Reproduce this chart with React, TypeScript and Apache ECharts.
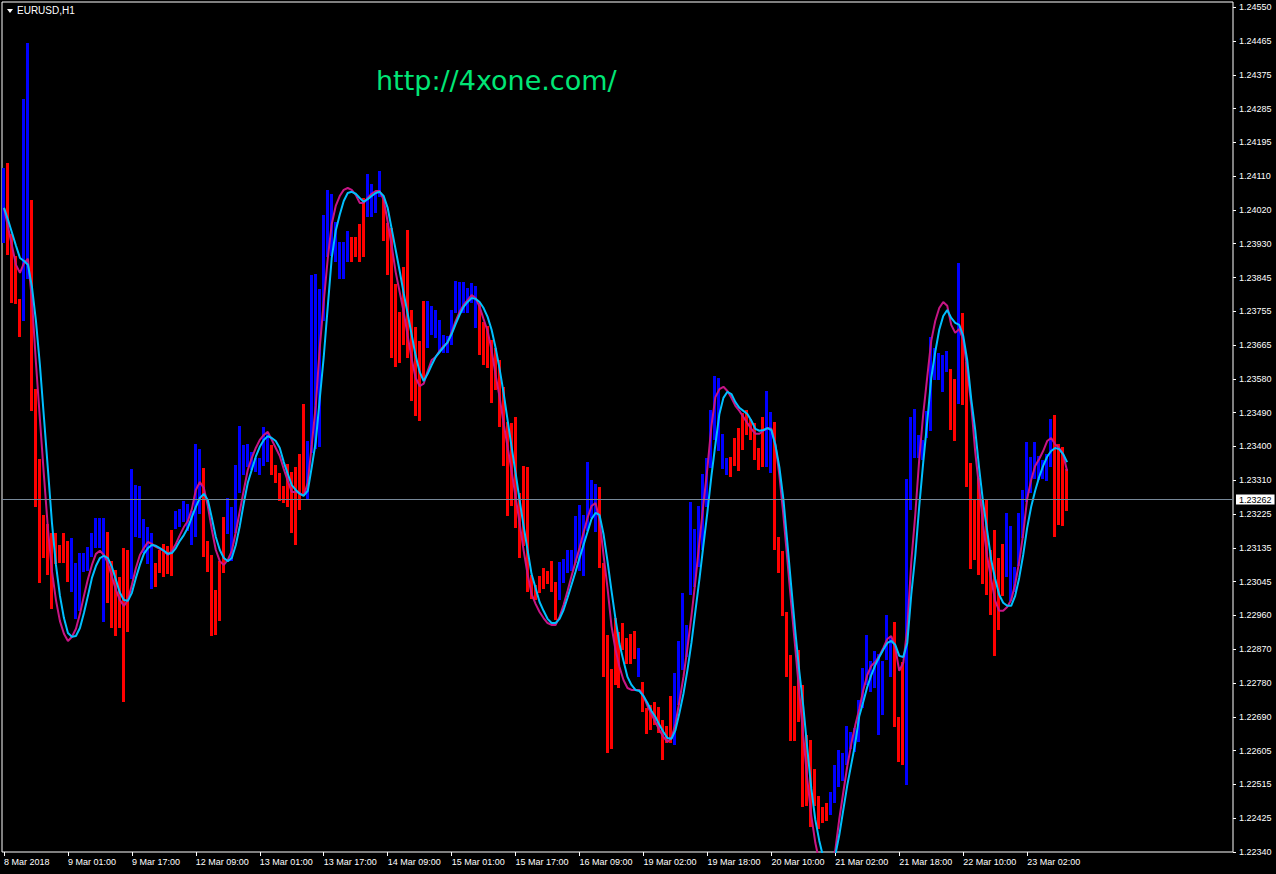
import React, { useEffect, useRef } from 'react';
import * as echarts from 'echarts';

// ---- texts ----
const symbolTitle = 'EURUSD,H1';
const watermark = 'http://4xone.com/';
const currentPrice = 1.23262;
const currentPriceLabel = '1.23262';

// ---- x axis (H1 bars, one label every 16 bars) ----
const xTickLabels = [
  '8 Mar 2018', '9 Mar 01:00', '9 Mar 17:00', '12 Mar 09:00', '13 Mar 01:00', '13 Mar 17:00',
  '14 Mar 09:00', '15 Mar 01:00', '15 Mar 17:00', '16 Mar 09:00', '19 Mar 02:00', '19 Mar 18:00',
  '20 Mar 10:00', '21 Mar 02:00', '21 Mar 18:00', '22 Mar 10:00', '23 Mar 02:00',
];
const xTickStep = 16;
const totalSlots = 308; // visible bar slots across the chart window

// ---- y axis ----
const yTickLabels = [
  '1.22340', '1.22425', '1.22515', '1.22605', '1.22690', '1.22780', '1.22870', '1.22960', '1.23045',
  '1.23135', '1.23225', '1.23310', '1.23400', '1.23490', '1.23580', '1.23665', '1.23755', '1.23845',
  '1.23930', '1.24020', '1.24110', '1.24195', '1.24285', '1.24375', '1.24465', '1.24550',
];
const yMin = 1.2234;
const yTopTick = 1.2455;
const yMax = 1.245636;

// ---- bars (prices in points, 1e-5) ----
const barColorCodes = (
  'B' + 'RRRR' + 'BB' + 'RRRRRRRRRR' + 'BBBBBBBBB' + 'RRRRRR' + 'BBBBBB' + 'RRRRR' + 'BBBBBBB' +
  'RRRRRR' + 'BBBBBBBBBBB' + 'RRRRRRRRR' + 'BBBBBBBBBBB' + 'RRRR' + 'BBBB' + 'RRRRRRRRRRR' +
  'BBBBBBBBBBBBB' + 'RRRRRRRRRRRRRRRRRRRR' + 'BBBBBBBBBB' + 'RRRRRRRRRR' + 'B' + 'RRRRRRRR' +
  'BBBBBBBBBBBBBB' + 'RRRRRRRRR' + 'BB' + 'RRRRRRRRRRRRRR' + 'BBBBBBBBBBBBBBBB' + 'RRR' +
  'BBBBBBBBBBB' + 'RR' + 'B' + 'RRRRRRRRRRR' + 'BBBBBBBBBBBB' + 'RRRR'
).split('');

const barHighPts = [
  124130, 124143, 123957, 123899, 123787, 124310, 124457, 124046, 123551, 123368,
  123222, 123198, 123175, 123175, 123143, 123175, 123154, 123162, 123096, 123122,
  123122, 123138, 123175, 123214, 123214, 123214, 123177, 123101, 123078, 123060,
  123135, 123130, 123342, 123300, 123298, 123211, 123190, 123175, 123096, 123130,
  123146, 123141, 123183, 123232, 123237, 123258, 123250, 123232, 123407, 123394,
  123345, 123154, 123117, 123026, 123101, 123216, 123266, 123243, 123353, 123455,
  123405, 123407, 123387, 123371, 123371, 123452, 123439, 123405, 123353, 123332,
  123298, 123355, 123334, 123347, 123381, 123512, 123415, 123850, 123852, 123813,
  124007, 124072, 124062, 123988, 123936, 123936, 123965, 123949, 123949, 123983,
  124051, 124114, 124088, 124064, 124122, 124054, 123986, 123973, 123826, 123753,
  123871, 123967, 123758, 123714, 123677, 123782, 123782, 123769, 123758, 123732,
  123693, 123690, 123758, 123834, 123831, 123831, 123816, 123829, 123821, 123776,
  123727, 123716, 123680, 123659, 123627, 123557, 123465, 123462, 123478, 123279,
  123350, 123347, 123065, 123039, 123062, 123083, 123075, 123101, 123047, 123099,
  123107, 123130, 123130, 123219, 123248, 123222, 123360, 123313, 123303, 123295,
  123096, 122908, 122819, 122952, 122916, 122939, 122900, 122911, 122918, 122874,
  122785, 122717, 122725, 122733, 122720, 122686, 122670, 122748, 122808, 122892,
  123018, 122934, 123256, 123185, 123245, 123329, 123371, 123496, 123585, 123580,
  123434, 123371, 123374, 123423, 123449, 123489, 123496, 123473, 123462, 123397,
  123478, 123546, 123491, 123465, 123164, 123128, 122968, 122856, 122774, 122869,
  122777, 122646, 122633, 122557, 122487, 122458, 122468, 122497, 122568, 122607,
  122599, 122670, 122654, 122665, 122738, 122822, 122908, 122840, 122866, 122858,
  122840, 122960, 122900, 122942, 122693, 122837, 123316, 123478, 123499, 123431,
  123418, 123494, 123687, 123659, 123646, 123640, 123651, 123604, 123578, 123881,
  123750, 123622, 123358, 123261, 123319, 123261, 123261, 123130, 123183, 123109,
  123146, 123227, 123193, 123086, 123227, 123287, 123413, 123374, 123413, 123376,
  123366, 123381, 123473, 123483, 123407, 123400, 123342,
];

const barLowPts = [
  123933, 123902, 123776, 123774, 123687, 123729, 123839, 123494, 123243, 123044,
  123109, 123065, 122976, 123094, 123096, 123096, 123047, 123020, 122950, 122971,
  123073, 123075, 123112, 123135, 123135, 122942, 122992, 122926, 122905, 122926,
  122733, 122916, 123054, 123164, 123162, 123122, 123094, 123028, 123033, 123070,
  123060, 123067, 123062, 123185, 123190, 123203, 123180, 123143, 123164, 123224,
  123112, 123073, 122905, 122908, 122944, 123070, 123172, 123101, 123175, 123279,
  123326, 123347, 123340, 123334, 123326, 123350, 123360, 123326, 123306, 123258,
  123253, 123243, 123175, 123143, 123235, 123272, 123264, 123384, 123394, 123400,
  123729, 123897, 123899, 123884, 123839, 123839, 123884, 123884, 123897, 123884,
  123897, 124001, 124001, 124012, 124054, 123939, 123850, 123632, 123609, 123619,
  123666, 123632, 123520, 123481, 123468, 123575, 123659, 123693, 123685, 123648,
  123646, 123646, 123666, 123750, 123750, 123750, 123750, 123776, 123711, 123640,
  123614, 123606, 123515, 123549, 123452, 123350, 123219, 123245, 123188, 123109,
  123141, 123020, 123002, 122999, 123018, 123028, 123041, 123020, 122947, 122999,
  123044, 123070, 123075, 123096, 123075, 123062, 123180, 123214, 123177, 123083,
  122798, 122599, 122610, 122777, 122769, 122869, 122832, 122832, 122845, 122798,
  122706, 122649, 122659, 122672, 122652, 122581, 122625, 122625, 122620, 122725,
  122816, 122850, 123013, 123033, 123086, 123130, 123243, 123345, 123418, 123389,
  123342, 123326, 123321, 123350, 123337, 123392, 123431, 123418, 123366, 123340,
  123347, 123347, 123332, 123130, 123070, 122958, 122798, 122631, 122631, 122680,
  122458, 122461, 122406, 122461, 122400, 122416, 122421, 122437, 122468, 122510,
  122526, 122568, 122610, 122602, 122628, 122717, 122777, 122759, 122769, 122646,
  122699, 122842, 122798, 122667, 122576, 122568, 122515, 123235, 123371, 123371,
  123366, 123423, 123442, 123575, 123575, 123544, 123596, 123444, 123415, 123512,
  123510, 123295, 123081, 123104, 123065, 123041, 123013, 122960, 122853, 122921,
  123010, 123060, 122997, 123020, 123088, 123162, 123256, 123279, 123316, 123313,
  123316, 123311, 123347, 123164, 123196, 123193, 123232,
];

// ---- moving-average lines (points, 1e-5) ----
const cyanLinePts = [
  124025, 123994, 123960, 123926, 123894, 123886, 123876, 123818, 123729, 123612,
  123476, 123340, 123201, 123091, 123010, 122952, 122913, 122903, 122905, 122926,
  122965, 123010, 123057, 123088, 123109, 123115, 123109, 123086, 123052, 123018,
  122999, 122997, 123018, 123057, 123091, 123120, 123135, 123143, 123141, 123135,
  123128, 123120, 123122, 123135, 123154, 123169, 123188, 123216, 123243, 123266,
  123277, 123261, 123214, 123164, 123130, 123109, 123101, 123109, 123143, 123193,
  123253, 123306, 123340, 123374, 123400, 123418, 123428, 123423, 123415, 123397,
  123360, 123329, 123300, 123287, 123277, 123272, 123285, 123347, 123413, 123525,
  123635, 123766, 123894, 123965, 124007, 124043, 124064, 124067, 124062, 124051,
  124041, 124048, 124056, 124064, 124067, 124056, 124025, 123970, 123915, 123860,
  123802, 123748, 123693, 123638, 123596, 123572, 123591, 123614, 123635, 123648,
  123661, 123674, 123695, 123721, 123745, 123766, 123779, 123789, 123787, 123779,
  123763, 123740, 123706, 123659, 123604, 123541, 123470, 123400, 123332, 123261,
  123193, 123130, 123067, 123031, 122994, 122971, 122950, 122939, 122939, 122950,
  122973, 123005, 123039, 123073, 123109, 123143, 123177, 123211, 123227, 123222,
  123172, 123101, 123023, 122950, 122884, 122840, 122798, 122777, 122764, 122761,
  122748, 122730, 122709, 122693, 122672, 122654, 122638, 122636, 122659, 122704,
  122754, 122816, 122887, 122971, 123054, 123143, 123230, 123324, 123407, 123486,
  123528, 123544, 123538, 123517, 123502, 123494, 123486, 123468, 123447, 123442,
  123444, 123449, 123444, 123405, 123347, 123264, 123149, 123031, 122916, 122811,
  122720, 122610, 122505, 122424, 122369, 122325, 122301, 122304, 122332, 122385,
  122450, 122515, 122570, 122625, 122696, 122733, 122772, 122803, 122829, 122850,
  122869, 122887, 122892, 122882, 122853, 122850, 122887, 123013, 123115, 123245,
  123360, 123465, 123580, 123648, 123706, 123742, 123758, 123737, 123724, 123719,
  123690, 123627, 123525, 123444, 123342, 123253, 123180, 123104, 123054, 123013,
  122992, 122984, 122984, 123010, 123057, 123117, 123188, 123243, 123285, 123321,
  123350, 123374, 123389, 123397, 123394, 123381, 123360,
];

const magentaLinePts = [
  124025, 123975, 123926, 123876, 123855, 123881, 123892, 123782, 123619, 123470,
  123324, 123185, 123075, 122999, 122944, 122911, 122892, 122903, 122924, 122963,
  123010, 123054, 123091, 123120, 123128, 123117, 123096, 123060, 123026, 122999,
  122984, 122999, 123039, 123083, 123117, 123135, 123151, 123146, 123138, 123133,
  123128, 123117, 123128, 123146, 123169, 123190, 123206, 123237, 123287, 123308,
  123292, 123245, 123183, 123130, 123101, 123091, 123104, 123128, 123177, 123232,
  123287, 123340, 123371, 123397, 123418, 123431, 123439, 123418, 123397, 123376,
  123342, 123311, 123282, 123282, 123279, 123272, 123306, 123405, 123507, 123659,
  123779, 123892, 123983, 124030, 124056, 124072, 124077, 124072, 124059, 124038,
  124038, 124051, 124062, 124069, 124069, 124046, 123988, 123926, 123857, 123805,
  123753, 123690, 123630, 123580, 123559, 123565, 123598, 123627, 123635, 123651,
  123664, 123672, 123700, 123729, 123753, 123771, 123784, 123797, 123789, 123766,
  123734, 123703, 123653, 123588, 123530, 123462, 123400, 123337, 123269, 123201,
  123130, 123067, 123015, 122989, 122968, 122952, 122939, 122934, 122934, 122955,
  122986, 123023, 123062, 123099, 123135, 123175, 123214, 123245, 123253, 123209,
  123117, 123031, 122931, 122869, 122824, 122790, 122769, 122764, 122764, 122764,
  122748, 122722, 122701, 122680, 122659, 122641, 122628, 122638, 122675, 122735,
  122798, 122874, 122958, 123049, 123151, 123250, 123345, 123455, 123530, 123551,
  123557, 123546, 123528, 123507, 123494, 123478, 123462, 123447, 123434, 123434,
  123442, 123449, 123447, 123407, 123326, 123222, 123104, 122986, 122871, 122756,
  122641, 122529, 122434, 122364, 122314, 122280, 122288, 122311, 122345, 122427,
  122497, 122565, 122623, 122672, 122714, 122764, 122803, 122827, 122837, 122853,
  122874, 122897, 122905, 122874, 122814, 122835, 122924, 123099, 123222, 123368,
  123486, 123583, 123677, 123729, 123763, 123779, 123769, 123719, 123698, 123708,
  123680, 123604, 123510, 123387, 123292, 123193, 123112, 123054, 122997, 122971,
  122971, 122981, 122999, 123041, 123099, 123172, 123264, 123313, 123350, 123368,
  123389, 123415, 123423, 123407, 123397, 123379, 123337,
];

const POINT = 1e-5;

export default function App() {
  const ref = useRef<HTMLDivElement>(null);

  useEffect(() => {
    document.body.style.margin = '0';
    document.body.style.background = '#000';
    if (!ref.current) return;
    const chart = echarts.init(ref.current, undefined, { renderer: 'svg' });

    const categories = Array.from({ length: totalSlots }, (_, i) => String(i));
    const n = Math.min(barHighPts.length, barLowPts.length, barColorCodes.length);
    const barData: number[][] = [];
    for (let i = 0; i < n; i++) {
      barData.push([i, barLowPts[i] * POINT, barHighPts[i] * POINT, barColorCodes[i] === 'B' ? 1 : 0]);
    }
    const yStep = (yTopTick - yMin) / (yTickLabels.length - 1);
    const yTicks = yTickLabels.map((_, i) => yMin + i * yStep);
    const showX = (i: number) => i % xTickStep === 0 && i / xTickStep < xTickLabels.length;
    const font = 'Liberation Sans, Arial, sans-serif';

    chart.setOption({
      animation: false,
      backgroundColor: '#000',
      grid: {
        left: 2, right: 43, top: 2, bottom: 22,
        show: true, borderColor: '#ffffff', borderWidth: 1, backgroundColor: '#000',
      },
      xAxis: {
        type: 'category',
        data: categories,
        boundaryGap: true,
        axisLine: { show: false },
        splitLine: { show: false },
        axisTick: {
          show: true, alignWithLabel: true, length: 4,
          interval: (i: number) => showX(i),
          lineStyle: { color: '#ffffff' },
        },
        axisLabel: {
          interval: (i: number) => showX(i),
          formatter: (v: string) => {
            const i = Number(v);
            return showX(i) ? xTickLabels[i / xTickStep] : '';
          },
          color: '#ffffff', fontSize: 9, fontFamily: font, align: 'left', margin: 5,
        },
      },
      yAxis: {
        type: 'value',
        position: 'right',
        min: yMin,
        max: yMax,
        axisLine: { show: false },
        splitLine: { show: false },
        axisTick: { show: true, length: 3, lineStyle: { color: '#ffffff' }, customValues: yTicks },
        axisLabel: {
          customValues: yTicks,
          formatter: (v: number) => yTickLabels[Math.round((v - yMin) / yStep)] ?? '',
          color: '#ffffff', fontSize: 9, fontFamily: font, margin: 6,
        },
      },
      graphic: [
        { type: 'polygon', shape: { points: [[7, 9], [13, 9], [10, 13]] }, style: { fill: '#ffffff' }, z: 100 },
        {
          type: 'text', x: 17, y: 10,
          style: { text: symbolTitle, fill: '#ffffff', font: '10px Liberation Sans', textVerticalAlign: 'middle' },
          z: 100,
        },
        {
          type: 'text', x: 376, y: 80,
          style: { text: watermark, fill: '#00e676', font: '27px DejaVu Sans', textVerticalAlign: 'middle' },
          z: 100,
        },
      ],
      series: [
        {
          type: 'custom',
          name: 'bars',
          clip: true,
          data: barData,
          encode: { x: 0, y: [1, 2] },
          renderItem: (_params: any, api: any) => {
            const k = api.value(0);
            const top = api.coord([k, api.value(2)]);
            const bot = api.coord([k, api.value(1)]);
            const x = Math.round(top[0]) - 2;
            const y0 = Math.round(top[1]);
            const y1 = Math.round(bot[1]);
            return {
              type: 'rect',
              shape: { x, y: y0, width: 3, height: Math.max(1, y1 - y0) },
              style: { fill: api.value(3) === 1 ? '#0000ff' : '#ff0000' },
            };
          },
          z: 2,
        },
        {
          type: 'line',
          name: 'ma-fast',
          data: magentaLinePts.map((v) => v * POINT),
          symbol: 'none',
          lineStyle: { color: '#c71585', width: 2 },
          z: 3,
          markLine: {
            silent: true,
            symbol: 'none',
            precision: 5,
            lineStyle: { color: '#778899', width: 1, type: 'solid' },
            label: {
              position: 'end', formatter: currentPriceLabel, distance: 3,
              backgroundColor: '#ffffff', color: '#000000', fontSize: 9, fontFamily: font,
              padding: [1, 3, 0, 3],
            },
            data: [{ yAxis: currentPrice }],
          },
        },
        {
          type: 'line',
          name: 'ma-slow',
          data: cyanLinePts.map((v) => v * POINT),
          symbol: 'none',
          lineStyle: { color: '#00bfff', width: 2 },
          z: 4,
        },
      ],
    });

    return () => chart.dispose();
  }, []);

  return (
    <div
      ref={ref}
      style={{ position: 'fixed', left: 0, top: 0, width: 1276, height: 874, background: '#000' }}
    />
  );
}
